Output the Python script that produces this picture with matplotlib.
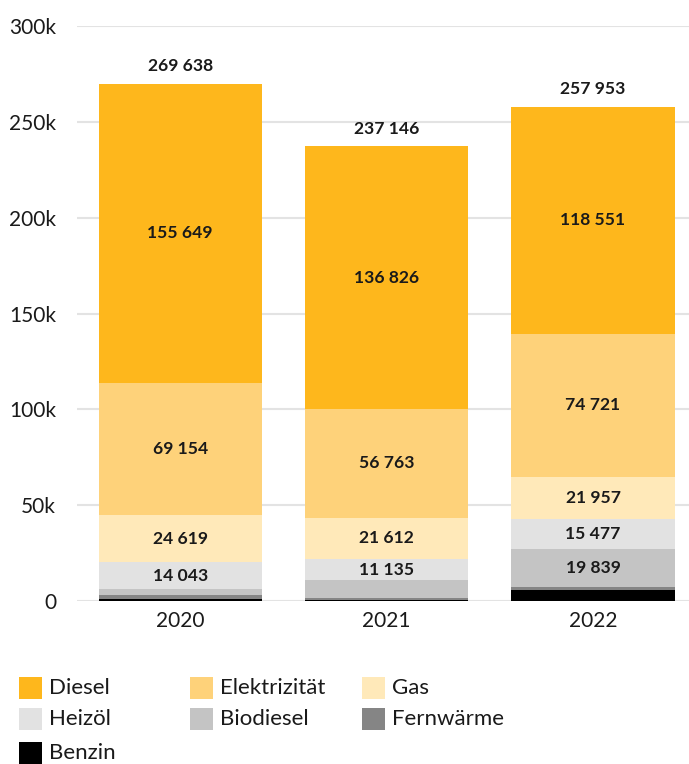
import matplotlib.pyplot as plt
import numpy as np
from matplotlib.patches import Rectangle

plt.rcParams['font.family'] = ['Lato', 'DejaVu Sans']

# Energy use per carrier and year, stacked bottom to top
years = ["2020", "2021", "2022"]
benzin = [1100, 300, 5800]
fernwaerme = [1900, 1500, 1608]
biodiesel = [3173, 9010, 19839]
heizoel = [14043, 11135, 15477]
gas = [24619, 21612, 21957]
elektrizitaet = [69154, 56763, 74721]
diesel = [155649, 136826, 118551]
totals = [269638, 237146, 257953]

series = [
    ("Benzin", benzin, "#000000"),
    ("Fernwärme", fernwaerme, "#858585"),
    ("Biodiesel", biodiesel, "#c4c4c4"),
    ("Heizöl", heizoel, "#e2e2e2"),
    ("Gas", gas, "#ffe9b9"),
    ("Elektrizität", elektrizitaet, "#fed27a"),
    ("Diesel", diesel, "#feb71c"),
]
legend_order = ["Diesel", "Elektrizität", "Gas", "Heizöl", "Biodiesel", "Fernwärme", "Benzin"]
yticks = [0, 50000, 100000, 150000, 200000, 250000, 300000]
ytick_labels = ["0", "50k", "100k", "150k", "200k", "250k", "300k"]


def fmt(v):
    return f"{v:,}".replace(",", " ")


fig = plt.figure(figsize=(6.89, 7.64), dpi=100)
ax = fig.add_axes([77 / 689, 163 / 764, 612 / 689, 575 / 764])

x = np.arange(len(years))
bottom = np.zeros(len(years))
for name, vals, color in series:
    vals = np.array(vals, dtype=float)
    ax.bar(x, vals, bottom=bottom, width=0.79, color=color, linewidth=0, zorder=2)
    for xi, b, v in zip(x, bottom, vals):
        if v >= 10000:
            ax.text(xi, b + v / 2, fmt(int(v)), ha="center", va="center",
                    fontsize=12.6, fontweight="bold", color="#1a1a1a", zorder=3)
    bottom += vals

for xi, t in zip(x, totals):
    ax.annotate(fmt(t), (xi, t), xytext=(0, 7), textcoords="offset points",
                ha="center", va="bottom", fontsize=12.6, fontweight="bold", color="#1a1a1a")

ax.set_xlim(-0.5, 2.465)
ax.set_ylim(0, 300000)
ax.set_yticks(yticks)
ax.set_yticklabels(ytick_labels)
ax.set_xticks(x)
ax.set_xticklabels(years)
ax.tick_params(axis="both", length=0, labelsize=15, colors="#1a1a1a")
ax.tick_params(axis="y", pad=15)
ax.tick_params(axis="x", pad=7)
ax.grid(axis="y", color="#e3e3e3", linewidth=1.5, zorder=0)
for s in ax.spines.values():
    s.set_visible(False)

# Legend drawn by hand in three columns
colors = {name: color for name, _, color in series}
col_x = [19, 190, 362]
row_y = [688, 719, 753]
for i, name in enumerate(legend_order):
    cx = col_x[i % 3]
    cy = row_y[i // 3]
    fig.patches.append(Rectangle((cx / 689, (764 - cy - 11) / 764), 23 / 689, 22 / 764,
                                 transform=fig.transFigure, color=colors[name], linewidth=0))
    fig.text((cx + 30) / 689, (764 - cy) / 764, name, ha="left", va="center",
             fontsize=16, color="#1a1a1a")

fig.savefig("out.png", dpi=100)
